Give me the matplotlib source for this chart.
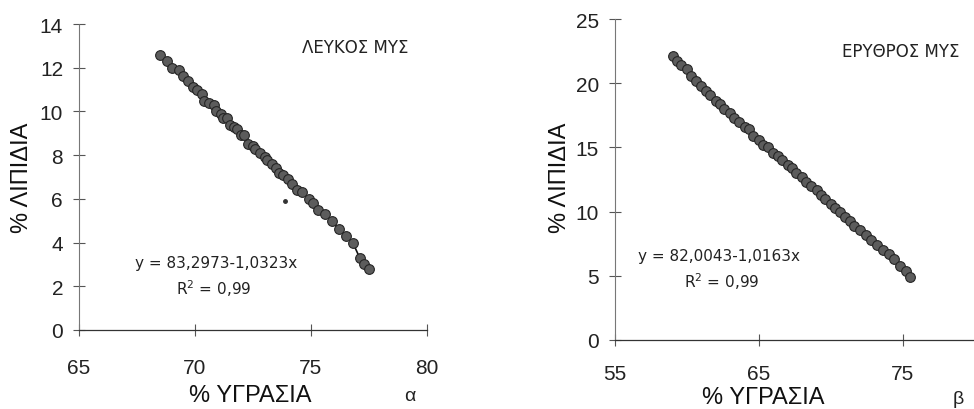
import matplotlib
matplotlib.use("Agg")
import matplotlib.pyplot as plt

plt.rcParams['font.family'] = ['Liberation Sans', 'DejaVu Sans']

# Panel α: white muscle (ΛΕΥΚΟΣ ΜΥΣ), moisture vs lipids
white_moist = [68.5, 68.8, 69.0, 69.3, 69.5, 69.7, 69.9, 70.1, 70.3, 70.4,
               70.6, 70.8, 70.9, 71.1, 71.2, 71.4, 71.5, 71.7, 71.8, 72.0,
               72.1, 72.3, 72.5, 72.6, 72.8, 73.0, 73.1, 73.3, 73.5, 73.6,
               73.8, 74.0, 74.2, 74.4, 74.6, 74.9, 75.1, 75.3, 75.6, 75.9,
               76.2, 76.5, 76.8, 77.1, 77.3, 77.5]
white_lipid = [12.6, 12.3, 12.0, 11.9, 11.6, 11.4, 11.1, 11.0, 10.8, 10.5,
               10.4, 10.3, 10.0, 9.9, 9.7, 9.7, 9.4, 9.3, 9.2, 8.9,
               8.9, 8.5, 8.4, 8.3, 8.1, 7.9, 7.8, 7.6, 7.4, 7.2,
               7.1, 6.9, 6.7, 6.4, 6.3, 6.0, 5.8, 5.5, 5.3, 5.0,
               4.6, 4.3, 4.0, 3.3, 3.0, 2.8]
white_outlier = ([73.9], [5.9])
white_eq = "y = 83,2973-1,0323x"

# Panel β: red muscle (ΕΡΥΘΡΟΣ ΜΥΣ)
red_moist = [59.0, 59.3, 59.6, 60.0, 60.3, 60.6, 61.0, 61.3, 61.6, 62.0,
             62.3, 62.6, 63.0, 63.3, 63.6, 64.0, 64.3, 64.6, 65.0, 65.3,
             65.6, 66.0, 66.3, 66.6, 67.0, 67.3, 67.6, 68.0, 68.3, 68.6,
             69.0, 69.3, 69.6, 70.0, 70.3, 70.6, 71.0, 71.3, 71.6, 72.0,
             72.4, 72.8, 73.2, 73.6, 74.0, 74.4, 74.8, 75.2, 75.5]
red_lipid = [22.1, 21.7, 21.4, 21.1, 20.6, 20.2, 19.8, 19.4, 19.1, 18.6,
             18.4, 18.0, 17.7, 17.3, 17.0, 16.6, 16.4, 15.9, 15.6, 15.2,
             15.0, 14.6, 14.3, 14.0, 13.6, 13.4, 13.0, 12.7, 12.3, 12.0,
             11.7, 11.3, 11.0, 10.6, 10.3, 10.0, 9.6, 9.3, 8.9, 8.6,
             8.2, 7.8, 7.4, 7.0, 6.7, 6.3, 5.8, 5.4, 4.9]
red_eq = "y = 82,0043-1,0163x"

r2_text = "R$^2$ = 0,99"
ylabel = "% ΛΙΠΙΔΙΑ"
xlabel = "% ΥΓΡΑΣΙΑ"
small_font = ['DejaVu Sans']

fig = plt.figure(figsize=(9.74, 4.10), dpi=100)
fig.patch.set_facecolor('white')

ax1 = fig.add_axes([0.0811, 0.1927, 0.3573, 0.7463])
# right panel runs past the page edge in the scan (x axis goes to 85)
ax2 = fig.add_axes([0.6314, 0.1683, 0.4435, 0.7829])


def style_axis(ax, xlim, ylim, xticks, yticks, xpad):
    ax.set_xlim(*xlim)
    ax.set_ylim(*ylim)
    ax.set_xticks(xticks)
    ax.set_yticks(yticks)
    for s in ['top', 'right']:
        ax.spines[s].set_visible(False)
    ax.spines['left'].set_color('#777777')
    ax.spines['left'].set_linestyle((0, (2, 1)))
    ax.spines['left'].set_linewidth(0.8)
    ax.spines['bottom'].set_color('#333333')
    ax.spines['bottom'].set_linewidth(0.9)
    ax.tick_params(axis='y', direction='inout', length=9, width=0.8,
                   color='#555555', labelsize=15, labelcolor='#222222', pad=7)
    ax.tick_params(axis='x', direction='inout', length=9, width=0.8,
                   color='#555555', labelsize=15, labelcolor='#222222', pad=xpad)
    ax.patch.set_alpha(0)


def draw_points(ax, xs, ys):
    ax.plot(xs, ys, '-', color='#111111', lw=1.2, zorder=2)
    ax.plot(xs, ys, 'o', ms=7, mfc='#5c5c5c', mec='#252525', mew=0.8,
            zorder=3, clip_on=False)


# --- panel α ---
style_axis(ax1, (65, 80), (0, 14), [65, 70, 75, 80], range(0, 15, 2), 16)
draw_points(ax1, white_moist, white_lipid)
ax1.plot(*white_outlier, 'o', ms=2.5, color='#333333')
ax1.text(0.64, 0.925, "ΛΕΥΚΟΣ ΜΥΣ", transform=ax1.transAxes,
         ha='left', va='center', fontsize=12, color='#222222', family=small_font)
ax1.text(0.394, 0.222, white_eq, transform=ax1.transAxes,
         ha='center', va='center', fontsize=11, color='#222222', family=small_font)
ax1.text(0.388, 0.14, r2_text, transform=ax1.transAxes,
         ha='center', va='center', fontsize=11, color='#222222', family=small_font)
fig.text(0.0226, 0.566, ylabel, rotation=90, ha='center', va='center',
         fontsize=17, color='#111111')
fig.text(0.257, 0.035, xlabel, ha='center', va='center',
         fontsize=17, color='#111111')
fig.text(0.421, 0.032, "α", ha='center', va='center', fontsize=14,
         color='#222222')

# --- panel β ---
style_axis(ax2, (55, 85), (0, 25), [55, 65, 75], range(0, 26, 5), 13)
draw_points(ax2, red_moist, red_lipid)
ax2.text(0.525, 0.9, "ΕΡΥΘΡΟΣ ΜΥΣ", transform=ax2.transAxes,
         ha='left', va='center', fontsize=12, color='#222222', family=small_font)
ax2.text(0.053, 0.262, red_eq, transform=ax2.transAxes,
         ha='left', va='center', fontsize=11, color='#222222', family=small_font)
ax2.text(0.16, 0.184, r2_text, transform=ax2.transAxes,
         ha='left', va='center', fontsize=11, color='#222222', family=small_font)
fig.text(0.575, 0.566, ylabel, rotation=90, ha='center', va='center',
         fontsize=17, color='#111111')
fig.text(0.7835, 0.03, xlabel, ha='center', va='center',
         fontsize=17, color='#111111')
fig.text(0.984, 0.025, "β", ha='center', va='center', fontsize=14,
         color='#222222')

fig.savefig("out.png", dpi=100)
